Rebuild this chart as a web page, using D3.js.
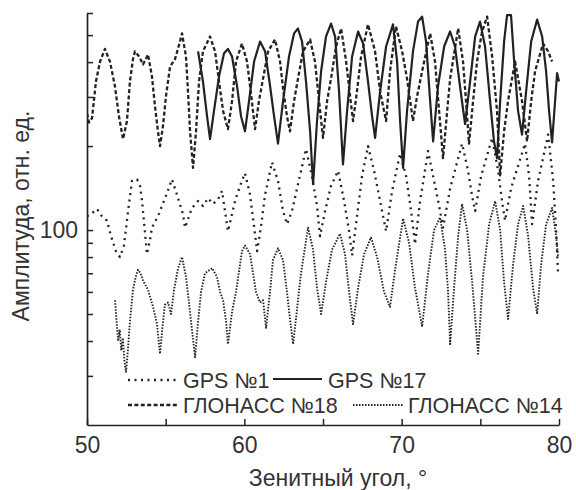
<!DOCTYPE html>
<html>
<head>
<meta charset="utf-8">
<script src="https://cdn.jsdelivr.net/npm/d3@7"></script>
<style>
  html, body { margin: 0; padding: 0; background: #fff; }
  svg { display: block; }
  text { font-family: "Liberation Sans", Arial, sans-serif; fill: #333; }
</style>
</head>
<body>
<svg id="chart" width="576" height="490"></svg>
<script>
// ---- data ----
const xTickValues = [50, 55, 60, 65, 70, 75, 80];
const xTickLabels = [50, 60, 70, 80];
const yTickValues = [30, 40, 50, 60, 70, 80, 90, 100, 200, 300, 400, 500, 600];
const yTickLabels = [100];
const seriesNames = ["GPS №1", "GPS №17", "ГЛОНАСС №18", "ГЛОНАСС №14"];

const glonass18 = [
[50.0,262],[50.13,243],[50.32,252],[50.57,341],[50.83,402],[51.14,446],[51.46,402],[51.78,327],[52.03,256],[52.29,212],
[52.54,246],[52.73,341],[52.92,409],[53.05,437],[53.31,419],[53.56,392],[53.88,426],[54.13,355],[54.32,278],[54.51,226],
[54.64,200],[54.83,236],[55.02,302],[55.28,386],[55.59,409],[55.91,474],[56.04,507],[56.29,419],[56.42,314],[56.55,226],
[56.74,167],[56.93,226],[57.12,341],[57.37,437],[57.82,494],[58.14,437],[58.39,341],[58.65,267],[58.96,230],[59.22,290],
[59.47,402],[59.85,466],[60.17,402],[60.43,306],[60.68,230],[60.93,290],[61.19,349],[61.51,437],[61.95,482],[62.27,402],
[62.46,322],[62.71,256],[62.9,226],[63.16,290],[63.41,349],[63.73,437],[64.18,482],[64.49,402],[64.75,290],[65.0,214],
[65.26,290],[65.51,349],[65.83,455],[66.15,528],[66.47,402],[66.72,302],[66.91,246],[67.16,314],[67.42,419],[67.86,546],
[68.31,437],[68.63,314],[69.01,246],[69.26,371],[69.64,537],[70.03,437],[70.34,349],[70.72,246],[70.98,302],[71.30,371],
[71.81,507],[72.12,402],[72.38,267],[72.63,181],[72.89,267],[73.08,349],[73.59,528],[73.90,402],[74.09,290],[74.28,204],
[74.54,290],[74.79,402],[75.11,515],[75.43,582],[75.75,419],[76.06,267],[76.26,157],[76.51,226],[76.76,290],[77.21,402],
[77.65,290],[77.97,208],[78.23,290],[78.48,371],[78.99,466],[79.31,437],[79.56,402]
];

const gps17 = [
[57.06,437],[57.37,341],[57.63,256],[57.82,212],[58.07,267],[58.39,355],[58.71,430],[58.96,446],[59.22,419],[59.54,327],
[59.79,256],[60.04,226],[60.30,290],[60.62,402],[61.0,474],[61.32,437],[61.64,327],[61.89,256],[62.14,204],[62.46,290],
[62.84,419],[63.16,507],[63.41,528],[63.67,474],[63.92,341],[64.18,226],[64.37,146],[64.62,246],[64.88,371],[65.19,494],
[65.51,550],[65.77,494],[66.02,314],[66.27,172],[66.53,267],[66.85,419],[67.23,515],[67.55,466],[67.86,341],[68.12,256],
[68.31,214],[68.63,314],[69.01,455],[69.45,546],[69.71,402],[69.90,246],[70.09,167],[70.34,267],[70.72,437],[71.04,559],
[71.30,582],[71.55,474],[71.81,290],[72.0,208],[72.31,327],[72.70,455],[73.08,515],[73.39,455],[73.71,327],[74.03,240],
[74.35,341],[74.67,494],[74.98,559],[75.30,455],[75.62,290],[75.87,208],[76.06,181],[76.26,290],[76.51,474],[76.70,590],
[76.95,590],[77.15,402],[77.40,267],[77.65,220],[77.91,314],[78.23,474],[78.61,568],[78.93,494],[79.18,371],[79.37,267],
[79.56,206],[79.75,290],[79.88,365],[80.0,341]
];

const gps1 = [
[50.0,112],[50.32,115],[50.64,119],[50.95,112],[51.27,108],[51.53,95],[51.84,84],[52.10,80],[52.35,88],[52.61,117],
[52.86,150],[53.18,152],[53.37,144],[53.50,127],[53.69,97],[53.81,82],[54.0,92],[54.13,102],[54.51,112],[54.96,130],
[55.40,152],[55.79,130],[56.10,114],[56.23,102],[56.67,120],[57.06,127],[57.37,122],[57.69,130],[58.01,124],[58.33,129],
[58.58,138],[58.77,117],[58.96,99],[59.41,127],[59.73,144],[60.04,160],[60.36,134],[60.62,103],[60.81,84],[61.06,103],
[61.32,134],[61.76,175],[62.14,150],[62.46,117],[62.71,105],[63.03,117],[63.41,146],[63.92,195],[64.30,156],[64.62,122],
[64.81,95],[65.13,117],[65.51,144],[65.96,163],[66.34,127],[66.66,99],[66.85,81],[67.16,112],[67.48,156],[67.86,200],
[68.25,163],[68.63,127],[69.01,99],[69.39,138],[69.90,188],[70.28,156],[70.60,117],[70.85,89],[71.17,127],[71.68,192],
[72.06,150],[72.38,122],[72.63,102],[73.08,141],[73.84,204],[74.22,163],[74.48,132],[74.67,117],[75.05,156],[75.75,214],
[76.13,163],[76.38,127],[76.57,108],[76.95,141],[77.84,204],[78.10,156],[78.29,105],[78.67,150],[79.31,220],[79.63,150],
[79.82,99],[79.94,70]
];

const glonass14 = [
[51.78,56],[51.88,47],[51.98,40],[52.08,44],[52.18,37],[52.28,41],[52.38,34],[52.48,31],[52.58,36],[52.73,47],
[52.92,61],[53.1,68],[53.24,72],[53.4,70],[53.56,66],[53.88,61],[54.2,53],[54.45,46],[54.64,36],[54.8,45],
[54.95,54],[55.15,55],[55.34,50],[55.53,61],[55.79,73],[56.04,80],[56.29,68],[56.48,55],[56.67,44],[56.87,35],
[57.06,47],[57.25,60],[57.5,70],[57.95,73],[58.26,68],[58.46,60],[58.65,56],[58.84,47],[58.96,39],[59.22,51],
[59.47,60],[59.85,84],[60.04,88],[60.36,82],[60.74,60],[61.0,55],[61.19,56],[61.38,44.6],[61.63,60],[61.82,78],
[62.14,86],[62.46,78],[62.71,60],[62.90,48],[63.10,39],[63.35,52],[63.60,70],[64.05,102],[64.37,85],[64.62,62],
[64.88,50],[65.19,65],[65.57,85],[66.08,97],[66.40,82],[66.66,60],[66.91,46],[67.23,62],[67.61,82],[68.05,94],
[68.44,80],[68.88,60],[69.26,53],[69.58,72],[70.09,110],[70.47,90],[70.85,62],[71.30,45],[71.68,70],[72.06,100],
[72.44,111],[72.76,85],[72.95,60],[73.08,39],[73.33,62],[73.59,95],[73.84,124],[74.16,100],[74.48,65],[74.86,36],
[75.17,68],[75.56,105],[75.94,127],[76.26,100],[76.51,65],[76.76,48],[77.08,75],[77.40,105],[77.72,122],[78.04,95],
[78.35,62],[78.61,50],[78.86,75],[79.18,105],[79.56,120],[79.82,95],[79.94,80]
];

// ---- styles ----
const ink = "#222";
const styles = {
  "GPS №1":      { dash: "2,4.5",   width: 2.3 },
  "GPS №17":     { dash: null,      width: 2.2 },
  "ГЛОНАСС №18": { dash: "4,2.4",   width: 2.3 },
  "ГЛОНАСС №14": { dash: "1.5,1.5", width: 1.9 }
};

const svg = d3.select("#chart");
const x = d3.scaleLinear().domain([50, 80]).range([87, 559]);
const y = d3.scaleLog().domain([20, 600]).range([425, 13]);

// clip
svg.append("defs").append("clipPath").attr("id", "clip")
  .append("rect").attr("x", 87).attr("y", 11).attr("width", 474).attr("height", 414);

const line = d3.line().x(d => x(d[0])).y(d => y(d[1]));
const plot = svg.append("g").attr("clip-path", "url(#clip)");
const seriesData = {
  "GPS №1": gps1, "GPS №17": gps17, "ГЛОНАСС №18": glonass18, "ГЛОНАСС №14": glonass14
};
seriesNames.forEach(name => {
  const s = styles[name];
  const p = plot.append("path").datum(seriesData[name]).attr("d", line)
    .attr("fill", "none").attr("stroke", ink).attr("stroke-width", s.width)
    .attr("stroke-linejoin", "round");
  if (s.dash) p.attr("stroke-dasharray", s.dash);
});

// axes
const xAxis = d3.axisBottom(x).tickValues(xTickValues)
  .tickSizeInner(-6).tickSizeOuter(0).tickPadding(12)
  .tickFormat(d => xTickLabels.includes(d) ? d : "");
const gx = svg.append("g").attr("transform", "translate(0,425)").call(xAxis);

const yAxis = d3.axisLeft(y).tickValues(yTickValues)
  .tickSizeInner(-6).tickSizeOuter(0).tickPadding(9)
  .tickFormat(d => yTickLabels.includes(d) ? d : "");
const gy = svg.append("g").attr("transform", "translate(87,0)").call(yAxis);

[gx, gy].forEach(g => {
  g.select(".domain").attr("stroke", ink).attr("stroke-width", 1.7);
  g.selectAll(".tick line").attr("stroke", ink).attr("stroke-width", 1.5);
  g.selectAll(".tick text").attr("font-size", 23)
    .attr("font-family", "'Liberation Sans', Arial, sans-serif").attr("fill", "#333");
});

// axis titles
svg.append("text").attr("x", 338).attr("y", 486).attr("text-anchor", "middle")
  .attr("font-size", 23).text("Зенитный угол, °");
svg.append("text").attr("transform", "translate(29,216) rotate(-90)")
  .attr("text-anchor", "middle").attr("font-size", 23).text("Амплитуда, отн. ед.");

// legend
const legendItems = [
  { name: "GPS №1",      x1: 128, x2: 178, ly: 380, tx: 183, ty: 388 },
  { name: "GPS №17",     x1: 273, x2: 322, ly: 379, tx: 328, ty: 388 },
  { name: "ГЛОНАСС №18", x1: 128, x2: 178, ly: 405, tx: 183, ty: 413 },
  { name: "ГЛОНАСС №14", x1: 353, x2: 403, ly: 405, tx: 408, ty: 413 }
];
const lg = svg.append("g");
legendItems.forEach(it => {
  const s = styles[it.name];
  const l = lg.append("line").attr("x1", it.x1).attr("x2", it.x2)
    .attr("y1", it.ly).attr("y2", it.ly)
    .attr("stroke", ink).attr("stroke-width", it.name === "GPS №17" ? 1.8 : s.width);
  if (s.dash) l.attr("stroke-dasharray", s.dash);
  lg.append("text").attr("x", it.tx).attr("y", it.ty).attr("font-size", 21.5).text(it.name);
});
</script>
</body>
</html>
